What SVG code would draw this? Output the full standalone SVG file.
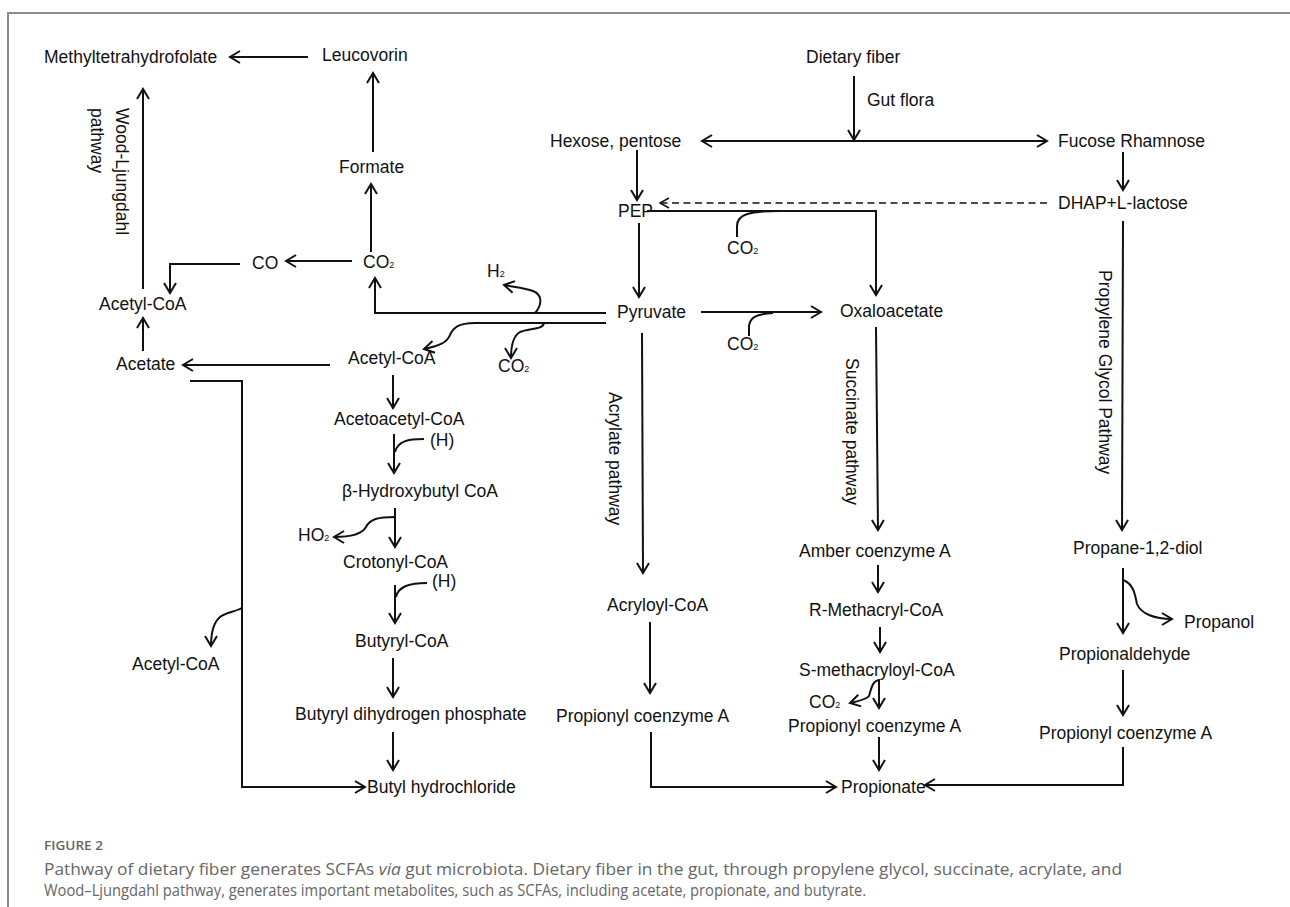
<svg xmlns="http://www.w3.org/2000/svg" width="1290" height="907" viewBox="0 0 1290 907">
<defs>
<style>
.t{font-family:"Liberation Sans",Arial,sans-serif;font-size:17.5px;fill:#111}
.s{font-size:9px}
.ln{fill:none;stroke:#111;stroke-width:2}
.ar{fill:none;stroke:#111;stroke-width:2;marker-end:url(#ah)}
.cap{font-family:"Open Sans","Noto Sans",sans-serif;fill:#666}
</style>
<marker id="ah" viewBox="-12 -8 14 16" refX="0" refY="0" markerWidth="14" markerHeight="16" markerUnits="userSpaceOnUse" orient="auto-start-reverse">
<path d="M-10,-6 L0,0 L-10,6" fill="none" stroke="#111" stroke-width="2"/>
</marker>
<marker id="ahd" viewBox="-12 -8 14 16" refX="0" refY="0" markerWidth="14" markerHeight="16" markerUnits="userSpaceOnUse" orient="auto">
<path d="M-9,-5 L0,0 L-9,5" fill="none" stroke="#111" stroke-width="1.5"/>
</marker>
</defs>
<rect width="1290" height="907" fill="#fff"/>
<path d="M8 907 L8 13 L1290 13" fill="none" stroke="#8c8c8c" stroke-width="2"/>

<g id="connectors">
<!-- Wood-Ljungdahl side -->
<path class="ar" d="M308 57 L230 57"/>
<path class="ar" d="M373 152 L373 73"/>
<path class="ar" d="M371 252 L371 184"/>
<path class="ar" d="M352 261 L286 261"/>
<path class="ar" d="M240 264 L170 264 L170 293"/>
<path class="ar" d="M143 289 L143 89"/>
<path class="ar" d="M143 351 L143 318"/>
<path class="ar" d="M330 365 L183 365"/>
<path class="ln" d="M190 381 L242 381 L242 787"/>
<path class="ar" stroke-width="3" d="M241 787 L365 787"/>
<path class="ar" d="M242 608 C235 612 226 612 220 617 C214 622 211 632 211 646"/>
<!-- Pyruvate branches -->
<path class="ar" d="M606 313 L375 313 L375 278"/>
<path class="ar" d="M535 313 C542 305 543 295 533 291 C525 288 514 287 504 285"/>
<path class="ar" d="M606 323 L475 323 C458 323 453 328 450 335 C447 343 438 346 424 349"/>
<path class="ar" d="M544 323 C543 330 528 328 520 332 C513 336 511 345 511 358"/>
<!-- butyrate chain -->
<path class="ar" d="M393 375 L393 408"/>
<path class="ar" d="M394 434 L394 473"/>
<path class="ln" d="M424 439 C408 439 398 441 395 452"/>
<path class="ar" d="M395 508 L395 547"/>
<path class="ar" d="M395 517 C378 517 370 519 366 527 C362 534 350 537 334 537"/>
<path class="ar" d="M395 585 L395 623"/>
<path class="ln" d="M427 583 C410 583 398 586 396 597"/>
<path class="ar" d="M393 658 L393 697"/>
<path class="ar" d="M393 732 L393 770"/>
<!-- top -->
<path class="ar" d="M854 76 L854 140"/>
<path class="ar" style="marker-start:url(#ah)" d="M702 141 L1047 141"/>
<path class="ar" d="M637 150 L637 200"/>
<path class="ar" d="M1123 152 L1123 190"/>
<path fill="none" stroke="#111" stroke-width="1.5" stroke-dasharray="7 4.5" marker-end="url(#ahd)" d="M1047 203 L660 203"/>
<path class="ar" d="M647 211 L876 211 L876 295"/>
<path class="ln" d="M780 211 C750 211 737 214 737 226 L737 237"/>
<path class="ar" d="M639 223 L639 297"/>
<path class="ar" d="M701 312 L821 312"/>
<path class="ln" d="M773 313 C755 314 750 318 749 326 L749 336"/>
<!-- acrylate -->
<path class="ar" d="M642 333 L643 573"/>
<path class="ar" d="M650 622 L650 693"/>
<path class="ar" d="M651 732 L651 787 L836 787"/>
<!-- succinate -->
<path class="ar" d="M876 327 L878 530"/>
<path class="ar" d="M878 565 L878 592"/>
<path class="ar" d="M880 627 L880 652"/>
<path class="ar" d="M879 680 L879 708"/>
<path class="ar" d="M880 680 C872 680 871 690 869 696 C866 700 858 701 850 703"/>
<path class="ar" d="M879 737 L879 770"/>
<!-- propylene glycol -->
<path class="ar" d="M1123 221 L1122 530"/>
<path class="ar" d="M1123 568 L1123 633"/>
<path class="ar" d="M1123 580 C1134 584 1135 595 1137 604 C1141 614 1155 619 1172 619"/>
<path class="ar" d="M1123 670 L1123 715"/>
<path class="ar" d="M1123 747 L1123 785 L925 785"/>
</g>

<g id="n-methyltetrahydrofolate"><text class="t" x="44" y="63">Methyltetrahydrofolate</text></g>
<g id="n-leucovorin"><text class="t" x="322" y="61">Leucovorin</text></g>
<g id="n-formate"><text class="t" x="339" y="173">Formate</text></g>
<g id="n-co2-a"><text class="t" x="363" y="268">CO<tspan class="s">2</tspan></text></g>
<g id="n-co"><text class="t" x="252" y="269">CO</text></g>
<g id="n-acetylcoa-a"><text class="t" x="99" y="310">Acetyl-CoA</text></g>
<g id="l-wood"><text class="t" transform="translate(116,108) rotate(90)"><tspan x="0" y="0">Wood-Ljungdahl</tspan><tspan x="0" y="25">pathway</tspan></text></g>
<g id="n-acetate"><text class="t" x="116" y="370">Acetate</text></g>
<g id="n-acetylcoa-b"><text class="t" x="348" y="364">Acetyl-CoA</text></g>
<g id="n-acetoacetylcoa"><text class="t" x="334" y="425">Acetoacetyl-CoA</text></g>
<g id="n-h-a"><text class="t" x="430" y="446">(H)</text></g>
<g id="n-hydroxybutyl"><text class="t" x="342" y="497">β-Hydroxybutyl CoA</text></g>
<g id="n-ho2"><text class="t" x="298" y="541">HO<tspan class="s">2</tspan></text></g>
<g id="n-crotonyl"><text class="t" x="343" y="568">Crotonyl-CoA</text></g>
<g id="n-h-b"><text class="t" x="432" y="587">(H)</text></g>
<g id="n-butyrylcoa"><text class="t" x="355" y="647">Butyryl-CoA</text></g>
<g id="n-acetylcoa-c"><text class="t" x="132" y="670">Acetyl-CoA</text></g>
<g id="n-butyrylphos"><text class="t" x="295" y="720">Butyryl dihydrogen phosphate</text></g>
<g id="n-butylhcl"><text class="t" x="367" y="793">Butyl hydrochloride</text></g>

<g id="n-dietary"><text class="t" x="806" y="63">Dietary fiber</text></g>
<g id="l-gut"><text class="t" x="867" y="106">Gut flora</text></g>
<g id="n-hexose"><text class="t" x="550" y="147">Hexose, pentose</text></g>
<g id="n-fucose"><text class="t" x="1058" y="147">Fucose Rhamnose</text></g>
<g id="n-pep"><text class="t" x="618" y="217">PEP</text></g>
<g id="n-dhap"><text class="t" x="1058" y="209">DHAP+L-lactose</text></g>
<g id="n-co2-b"><text class="t" x="727" y="254">CO<tspan class="s">2</tspan></text></g>
<g id="n-h2"><text class="t" x="487" y="277">H<tspan class="s">2</tspan></text></g>
<g id="n-pyruvate"><text class="t" x="617" y="318">Pyruvate</text></g>
<g id="n-oxaloacetate"><text class="t" x="840" y="317">Oxaloacetate</text></g>
<g id="n-co2-c"><text class="t" x="727" y="350">CO<tspan class="s">2</tspan></text></g>
<g id="n-co2-d"><text class="t" x="498" y="372">CO<tspan class="s">2</tspan></text></g>

<g id="l-acrylate"><text class="t" transform="translate(609,392) rotate(90)">Acrylate pathway</text></g>
<g id="n-acryloyl"><text class="t" x="607" y="611">Acryloyl-CoA</text></g>
<g id="n-propionyl-a"><text class="t" x="556" y="722">Propionyl coenzyme A</text></g>

<g id="l-succinate"><text class="t" transform="translate(846,358) rotate(90)">Succinate pathway</text></g>
<g id="n-amber"><text class="t" x="799" y="557">Amber coenzyme A</text></g>
<g id="n-rmeth"><text class="t" x="809" y="616">R-Methacryl-CoA</text></g>
<g id="n-smeth"><text class="t" x="799" y="676">S-methacryloyl-CoA</text></g>
<g id="n-co2-e"><text class="t" x="809" y="708">CO<tspan class="s">2</tspan></text></g>
<g id="n-propionyl-b"><text class="t" x="788" y="732">Propionyl coenzyme A</text></g>
<g id="n-propionate"><text class="t" x="841" y="793">Propionate</text></g>

<g id="l-propylene"><text class="t" transform="translate(1099,270) rotate(90)">Propylene Glycol Pathway</text></g>
<g id="n-propanediol"><text class="t" x="1073" y="554">Propane-1,2-diol</text></g>
<g id="n-propanol"><text class="t" x="1184" y="628">Propanol</text></g>
<g id="n-propionaldehyde"><text class="t" x="1059" y="660">Propionaldehyde</text></g>
<g id="n-propionyl-c"><text class="t" x="1039" y="739">Propionyl coenzyme A</text></g>

<g id="caption">
<text class="cap" x="44" y="850" font-size="13" font-weight="600" fill="#555" textLength="59" lengthAdjust="spacingAndGlyphs">FIGURE 2</text>
<text class="cap" x="44" y="875" font-size="16" textLength="1078" lengthAdjust="spacingAndGlyphs">Pathway of dietary fiber generates SCFAs <tspan font-style="italic">via</tspan> gut microbiota. Dietary fiber in the gut, through propylene glycol, succinate, acrylate, and</text>
<text class="cap" x="44" y="896" font-size="16" textLength="822" lengthAdjust="spacingAndGlyphs">Wood–Ljungdahl pathway, generates important metabolites, such as SCFAs, including acetate, propionate, and butyrate.</text>
</g>
</svg>
